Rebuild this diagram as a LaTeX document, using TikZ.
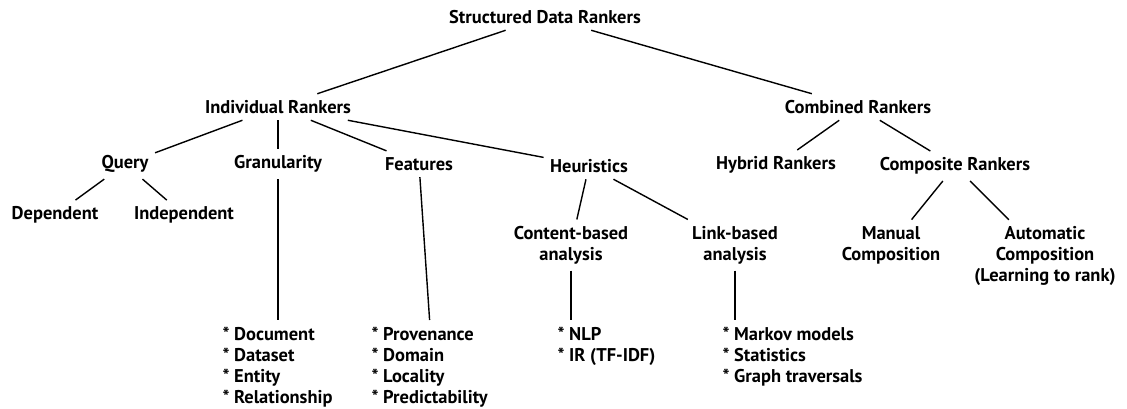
\documentclass[tikz,border=0pt]{standalone}
\usepackage{fontspec}
\setmainfont{PT Sans}
\begin{document}
\begin{tikzpicture}[font=\bfseries\fontsize{10.5}{12}\selectfont, line width=0.8pt,
  lbl/.style={align=center},
  items/.style={align=left, anchor=north west}]
\useasboundingbox (0,0) rectangle (22.54,8.16);

\node[lbl] (top) at (10.90,7.82) {Structured Data Rankers};
\node[lbl] (ind) at (5.56,6.02) {Individual Rankers};
\node[lbl] (comb) at (17.16,6.02) {Combined Rankers};

\node[lbl] (query) at (2.50,4.88) {Query};
\node[lbl] (gran) at (5.56,4.88) {Granularity};
\node[lbl] (feat) at (8.38,4.88) {Features};
\node[lbl] (heur) at (11.78,4.84) {Heuristics};
\node[lbl] (hyb) at (15.52,4.86) {Hybrid Rankers};
\node[lbl] (comp) at (19.10,4.84) {Composite Rankers};

\node[lbl] (dep) at (1.10,3.86) {Dependent};
\node[lbl] (indep) at (3.68,3.86) {Independent};
\node[lbl] (content) at (11.42,3.26) {Content-based\\analysis};
\node[lbl] (link) at (14.70,3.26) {Link-based\\analysis};
\node[lbl] (manual) at (17.82,3.26) {Manual\\Composition};
\node[lbl] (auto) at (20.90,3.04) {Automatic\\Composition\\(Learning to rank)};

\node[items] (granlist) at (4.32,1.76) {* Document\\* Dataset\\* Entity\\* Relationship};
\node[items] (featlist) at (7.30,1.76) {* Provenance\\* Domain\\* Locality\\* Predictability};
\node[items] (nlplist) at (11.02,1.76) {* NLP\\* IR (TF-IDF)};
\node[items] (linklist) at (14.32,1.76) {* Markov models\\* Statistics\\* Graph traversals};

\draw (top) -- (ind);
\draw (top) -- (comb);
\draw (ind) -- (query);
\draw (ind) -- (gran);
\draw (ind) -- (feat);
\draw (ind) -- (heur);
\draw (comb) -- (hyb);
\draw (comb) -- (comp);
\draw (query) -- (dep);
\draw (query) -- (indep);
\draw (heur) -- (content);
\draw (heur) -- (link);
\draw (comp) -- (manual);
\draw (comp) -- (auto);
\draw (gran) -- (gran |- granlist.north);
\draw (feat) -- (featlist.north);
\draw (content) -- (content |- nlplist.north);
\draw (link) -- (link |- linklist.north);
\end{tikzpicture}
\end{document}
